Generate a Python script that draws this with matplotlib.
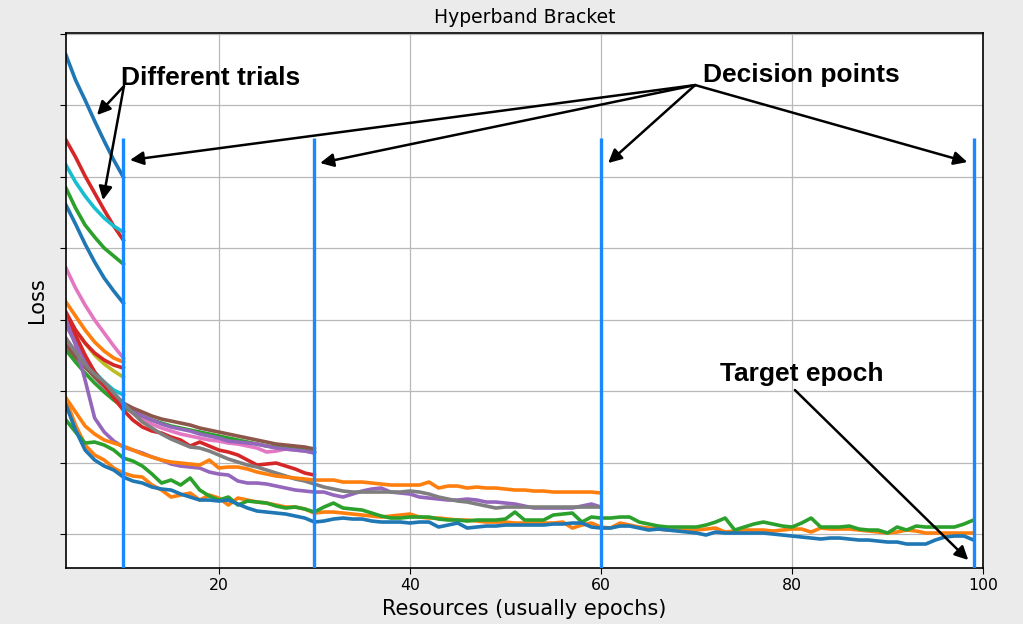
import numpy as np
import matplotlib
matplotlib.use("Agg")
import matplotlib.pyplot as plt

# epochs, one loss value per epoch starting at epoch 4
epochs = np.arange(4, 100)
decision_epochs = [10, 30, 60, 99]

# trials stopped at epoch 10
loss_blue_a = [5.13, 4.88, 4.68, 4.47, 4.27, 4.08, 3.91]
loss_red_a = [4.28, 4.11, 3.92, 3.75, 3.58, 3.42, 3.28]
loss_cyan_a = [4.03, 3.86, 3.72, 3.60, 3.50, 3.42, 3.36]
loss_green_a = [3.80, 3.60, 3.43, 3.31, 3.20, 3.12, 3.04]
loss_blue_b = [3.63, 3.44, 3.24, 3.06, 2.90, 2.77, 2.65]
loss_pink_a = [3.00, 2.80, 2.63, 2.48, 2.35, 2.22, 2.10]
loss_orange_a = [2.66, 2.52, 2.38, 2.26, 2.17, 2.10, 2.06]
loss_olive_a = [2.53, 2.38, 2.25, 2.13, 2.04, 1.97, 1.91]
loss_red_b = [2.56, 2.38, 2.25, 2.15, 2.08, 2.03, 2.00]
loss_cyan_b = [2.50, 2.30, 2.10, 1.96, 1.86, 1.78, 1.73]

# trials stopped at epoch 30
loss_brown = [2.23, 2.11, 2.01, 1.91, 1.82, 1.73, 1.65, 1.60, 1.56, 1.52,
              1.49, 1.47, 1.45, 1.43, 1.40, 1.38, 1.36, 1.34, 1.32, 1.30,
              1.28, 1.26, 1.24, 1.23, 1.22, 1.21, 1.19]
loss_purple_a = [2.43, 2.25, 2.08, 1.95, 1.83, 1.73, 1.63, 1.57, 1.52, 1.48,
                 1.44, 1.41, 1.39, 1.37, 1.34, 1.32, 1.30, 1.27, 1.26, 1.25,
                 1.24, 1.22, 1.20, 1.19, 1.18, 1.17, 1.15]
loss_pink_b = [2.28, 2.16, 2.03, 1.91, 1.80, 1.71, 1.62, 1.55, 1.49, 1.44,
               1.40, 1.37, 1.34, 1.32, 1.30, 1.28, 1.27, 1.25, 1.24, 1.22,
               1.20, 1.16, 1.17, 1.19, 1.18, 1.17, 1.16]
loss_green_b = [2.18, 2.06, 1.95, 1.85, 1.76, 1.68, 1.61, 1.56, 1.52, 1.48,
                1.45, 1.42, 1.40, 1.38, 1.36, 1.34, 1.32, 1.30, 1.28, 1.26,
                1.24, 1.22, 1.21, 1.20, 1.19, 1.18, 1.15]
loss_red_c = [2.53, 2.33, 2.13, 1.96, 1.83, 1.70, 1.58, 1.48, 1.41, 1.37,
              1.35, 1.31, 1.28, 1.22, 1.26, 1.22, 1.18, 1.16, 1.13, 1.08,
              1.03, 1.04, 1.05, 1.02, 0.99, 0.95, 0.93]

# trials stopped at epoch 60
loss_orange_b = [1.70, 1.56, 1.42, 1.34, 1.28, 1.25, 1.22, 1.18, 1.14, 1.11,
                 1.08, 1.06, 1.05, 1.04, 1.03, 1.08, 1.00, 1.01, 1.01, 0.99,
                 0.96, 0.94, 0.92, 0.91, 0.90, 0.89, 0.88, 0.88, 0.88, 0.86,
                 0.86, 0.86, 0.85, 0.84, 0.83, 0.83, 0.83, 0.83, 0.86, 0.80,
                 0.82, 0.82, 0.80, 0.81, 0.80, 0.80, 0.79, 0.78, 0.78, 0.77,
                 0.77, 0.76, 0.76, 0.76, 0.76, 0.76, 0.75]
loss_purple_b = [2.48, 2.23, 1.88, 1.50, 1.36, 1.27, 1.21, 1.18, 1.15, 1.11,
                 1.08, 1.04, 1.02, 1.01, 1.00, 0.96, 0.94, 0.93, 0.87, 0.85,
                 0.85, 0.84, 0.82, 0.80, 0.78, 0.77, 0.76, 0.76, 0.73, 0.71,
                 0.74, 0.77, 0.79, 0.80, 0.76, 0.75, 0.74, 0.71, 0.70, 0.69,
                 0.68, 0.68, 0.69, 0.68, 0.66, 0.66, 0.65, 0.64, 0.62, 0.60,
                 0.60, 0.60, 0.60, 0.60, 0.62, 0.64, 0.61]
loss_grey = [2.30, 2.16, 2.03, 1.94, 1.86, 1.75, 1.65, 1.55, 1.46, 1.40,
             1.34, 1.29, 1.25, 1.21, 1.20, 1.17, 1.13, 1.09, 1.06, 1.03,
             1.01, 0.98, 0.95, 0.92, 0.89, 0.87, 0.84, 0.81, 0.79, 0.77,
             0.76, 0.76, 0.76, 0.76, 0.76, 0.76, 0.77, 0.76, 0.74, 0.71,
             0.69, 0.67, 0.66, 0.64, 0.62, 0.60, 0.61, 0.61, 0.61, 0.61,
             0.61, 0.61, 0.61, 0.61, 0.61, 0.61, 0.61]

# trials run to the target epoch
loss_orange_c = [1.68, 1.43, 1.23, 1.13, 1.08, 1.00, 0.95, 0.92, 0.91, 0.83,
                 0.78, 0.71, 0.73, 0.75, 0.68, 0.73, 0.70, 0.63, 0.70, 0.68,
                 0.66, 0.65, 0.63, 0.61, 0.61, 0.59, 0.55, 0.56, 0.56, 0.55,
                 0.54, 0.53, 0.52, 0.51, 0.52, 0.53, 0.54, 0.51, 0.50, 0.50,
                 0.49, 0.48, 0.48, 0.47, 0.46, 0.46, 0.46, 0.45, 0.45, 0.45,
                 0.45, 0.45, 0.46, 0.40, 0.43, 0.45, 0.41, 0.40, 0.45, 0.43,
                 0.41, 0.40, 0.39, 0.38, 0.38, 0.38, 0.38, 0.39, 0.40, 0.36,
                 0.37, 0.38, 0.38, 0.38, 0.37, 0.38, 0.39, 0.39, 0.36, 0.40,
                 0.39, 0.39, 0.39, 0.38, 0.37, 0.36, 0.35, 0.36, 0.38, 0.37,
                 0.35, 0.35, 0.35, 0.35, 0.35, 0.35]
loss_green_c = [1.48, 1.36, 1.25, 1.26, 1.23, 1.18, 1.10, 1.07, 1.02, 0.94,
                0.85, 0.88, 0.83, 0.90, 0.78, 0.72, 0.68, 0.71, 0.63, 0.67,
                0.66, 0.65, 0.62, 0.60, 0.61, 0.59, 0.56, 0.61, 0.65, 0.60,
                0.59, 0.58, 0.55, 0.52, 0.50, 0.50, 0.51, 0.51, 0.51, 0.49,
                0.48, 0.48, 0.47, 0.48, 0.48, 0.48, 0.49, 0.56, 0.48, 0.48,
                0.48, 0.53, 0.54, 0.55, 0.46, 0.51, 0.50, 0.50, 0.51, 0.51,
                0.46, 0.44, 0.42, 0.41, 0.41, 0.41, 0.41, 0.43, 0.46, 0.50,
                0.38, 0.41, 0.44, 0.46, 0.44, 0.42, 0.41, 0.45, 0.50, 0.41,
                0.41, 0.41, 0.42, 0.39, 0.38, 0.38, 0.35, 0.41, 0.38, 0.42,
                0.41, 0.41, 0.41, 0.41, 0.44, 0.48]
loss_blue_c = [1.63, 1.38, 1.18, 1.08, 1.02, 0.98, 0.91, 0.87, 0.85, 0.81,
               0.79, 0.78, 0.74, 0.71, 0.68, 0.68, 0.67, 0.68, 0.64, 0.60,
               0.57, 0.56, 0.55, 0.54, 0.52, 0.50, 0.46, 0.47, 0.49, 0.50,
               0.49, 0.49, 0.47, 0.46, 0.46, 0.46, 0.45, 0.46, 0.46, 0.41,
               0.43, 0.45, 0.40, 0.41, 0.42, 0.42, 0.43, 0.43, 0.43, 0.43,
               0.43, 0.44, 0.44, 0.45, 0.45, 0.41, 0.40, 0.40, 0.42, 0.42,
               0.40, 0.38, 0.39, 0.38, 0.37, 0.36, 0.35, 0.33, 0.36, 0.35,
               0.35, 0.35, 0.35, 0.35, 0.34, 0.33, 0.32, 0.31, 0.30, 0.29,
               0.30, 0.30, 0.29, 0.28, 0.28, 0.27, 0.26, 0.26, 0.24, 0.24,
               0.24, 0.28, 0.31, 0.32, 0.32, 0.28]

curves = [
    (loss_blue_a, 'C0'), (loss_red_a, 'C3'), (loss_cyan_a, 'C9'),
    (loss_green_a, 'C2'), (loss_blue_b, 'C0'), (loss_pink_a, 'C6'),
    (loss_orange_a, 'C1'), (loss_olive_a, 'C8'), (loss_red_b, 'C3'),
    (loss_cyan_b, 'C9'),
    (loss_pink_b, 'C6'), (loss_green_b, 'C2'), (loss_purple_a, 'C4'),
    (loss_brown, 'C5'), (loss_red_c, 'C3'),
    (loss_purple_b, 'C4'), (loss_grey, 'C7'), (loss_orange_b, 'C1'),
    (loss_orange_c, 'C1'), (loss_green_c, 'C2'), (loss_blue_c, 'C0'),
]

fig = plt.figure(figsize=(10.23, 6.24), dpi=100, facecolor='#ebebeb')
ax = fig.add_axes([0.0645, 0.0897, 0.8965, 0.8573])
ax.set_facecolor('white')

for vals, col in curves:
    ax.plot(epochs[:len(vals)], vals, color=col, lw=2.6, zorder=2)

ax.vlines(decision_epochs, 0, 4.30, color='#1a88ff', lw=2.4, zorder=3)

ax.set_xlim(4, 100)
ax.set_ylim(0, 5.35)
ax.set_xticks([20, 40, 60, 80, 100])
ax.set_yticks(np.arange(0.34, 5.4, 0.715))
ax.set_yticklabels([])
ax.grid(True, color='#b8b8b8', lw=0.9)
ax.set_axisbelow(True)
ax.tick_params(axis='x', labelsize=11.3, length=4)
ax.tick_params(axis='y', length=4)
for sp in ax.spines.values():
    sp.set_linewidth(1.2)

ax.set_title('Hyperband Bracket', fontsize=13.5, pad=7)
ax.set_xlabel('Resources (usually epochs)', fontsize=15, labelpad=4)
ax.set_ylabel('Loss', fontsize=15, labelpad=6)

# annotations
bold = dict(fontsize=19, fontweight='bold', family='Liberation Sans')
arrow = dict(arrowstyle='-|>', color='black', lw=1.8, mutation_scale=20,
             shrinkA=0, shrinkB=0)

ax.text(9.76, 4.83, 'Different trials', ha='left', va='baseline', **bold)
for head in [(7.25, 4.53), (7.87, 3.68)]:
    ax.annotate('', xy=head, xytext=(10.07, 4.82), arrowprops=arrow)

ax.text(70.7, 4.86, 'Decision points', ha='left', va='baseline', **bold)
for head in [(10.7, 4.08), (30.6, 4.05), (60.75, 4.05), (98.35, 4.06)]:
    ax.annotate('', xy=head, xytext=(69.86, 4.83), arrowprops=arrow)

ax.text(72.5, 1.87, 'Target epoch', ha='left', va='baseline', **bold)
ax.annotate('', xy=(98.45, 0.08), xytext=(80.3, 1.78), arrowprops=arrow)

fig.savefig('out.png', dpi=100, facecolor=fig.get_facecolor())
